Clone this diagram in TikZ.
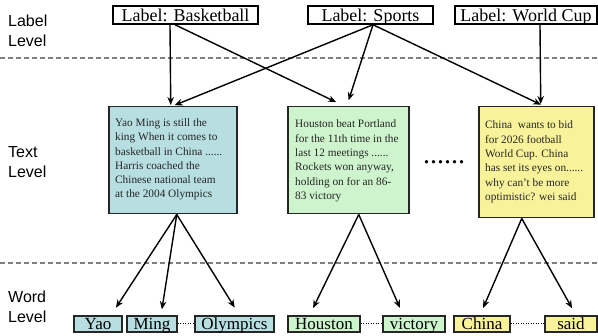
\documentclass[tikz,border=0pt]{standalone}
\usepackage{fontspec}
\setmainfont{Liberation Serif}
\newfontfamily\lvlfont{Liberation Sans}
\usetikzlibrary{arrows.meta}
\definecolor{cblue}{HTML}{B7DEE1}
\definecolor{cgreen}{HTML}{CDF4CC}
\definecolor{cyellow}{HTML}{F8F29B}
\tikzset{
  lvl/.style={font=\lvlfont\fontsize{16}{20}\selectfont, align=left, anchor=north west, inner sep=0},
  lbox/.style={draw=black, line width=1.5pt, font=\fontsize{18}{20}\selectfont, text height=15.5, text depth=2.5, inner sep=0, minimum height=18},
  tbox/.style={draw=black!85, line width=1.5pt, anchor=north west},
  ttext/.style={font=\fontsize{11.3}{14.3}\selectfont, align=left, anchor=west, inner sep=0, text=black!85},
  wbox/.style={draw=black!85, line width=1.5pt, font=\fontsize{17}{18}\selectfont, text height=13.5, text depth=2.5, inner sep=0, minimum height=16},
  arr/.style={-{Stealth[length=8pt,width=6.5pt]}, line width=1.4pt},
  sepline/.style={dash pattern=on 5pt off 3pt, draw=black!50, line width=1.1pt},
  wdots/.style={dash pattern=on 1pt off 1.5pt, line width=1pt},
}
\begin{document}
\begin{tikzpicture}[x=1pt,y=-1pt]
\useasboundingbox (0,0) rectangle (598,336);
% separators
\draw[sepline] (0,58) -- (598,58);
\draw[sepline] (0,263) -- (598,263);
% level labels
\node[lvl] (ll) at (8,14.5) {Label\\Level};
\node[lvl] (tl) at (8,146) {Text\\Level};
\node[lvl] (wl) at (8,290.5) {Word\\Level};
% label boxes
\node[lbox, minimum width=145] (lb1) at (185.5,15) {Label: Basketball};
\node[lbox, minimum width=125] (lb2) at (370.5,15) {Label: Sports};
\node[lbox, minimum width=142] (lb3) at (526,15) {Label: World Cup};
% text boxes
\node[tbox, fill=cblue, minimum width=128, minimum height=107] (t1) at (108,106) {};
\node[ttext] (t1x) at (115,159.5) {Yao Ming is still the\\king When it comes to\\basketball in China ......\\Harris coached the\\Chinese national team\\at the 2004 Olympics};
\node[tbox, fill=cgreen, minimum width=121, minimum height=107] (t2) at (287,106) {};
\node[ttext] (t2x) at (295,161) {Houston beat Portland\\for the 11th time in the\\last 12 meetings ......\\Rockets won anyway,\\holding on for an 86-\\83 victory};
\node[tbox, fill=cyellow, minimum width=115, minimum height=111] (t3) at (478,106) {};
\node[ttext] (t3x) at (485,162) {China\ \ wants to bid\\for 2026 football\\World Cup. China\\has set its eyes on......\\why can't be more\\optimistic? wei said};
\node[font=\fontsize{28}{30}\selectfont, anchor=base, inner sep=0] (dots) at (444,164) {......};
% word boxes
\node[wbox, fill=cblue, minimum width=48] (yao) at (98,324) {Yao};
\node[wbox, fill=cblue, minimum width=50] (ming) at (152,324) {Ming};
\node[wbox, fill=cblue, minimum width=79] (oly) at (234.5,324) {Olympics};
\node[wbox, fill=cgreen, minimum width=72] (hou) at (324,324) {Houston};
\node[wbox, fill=cgreen, minimum width=62] (vic) at (414,324) {victory};
\node[wbox, fill=cyellow, minimum width=56] (chi) at (482,324) {China};
\node[wbox, fill=cyellow, minimum width=52] (said) at (571,324) {said};
\draw[wdots] (ming) -- (oly);
\draw[wdots] (hou) -- (vic);
\draw[wdots] (chi) -- (said);
% label -> text arrows
\draw[arr, shorten >=1] ([xshift=-15.5]lb1.south) -- ([xshift=-2]t1.north);
\draw[arr, shorten >=9] ([xshift=-10.5]lb1.south) -- ([xshift=-4]t2.north);
\draw[arr, shorten >=2] ([xshift=2.5]lb2.south) -- (t1.north);
\draw[arr, shorten >=6] ([xshift=2.5]lb2.south) -- ([xshift=-1.5]t2.north);
\draw[arr, shorten >=3] ([xshift=2.5]lb2.south) -- ([xshift=7.5]t3.north);
\draw[arr, shorten >=2] ([xshift=14]lb3.south) -- ([xshift=4.5]t3.north);
% text -> word arrows
\draw[arr, shorten >=9] ([xshift=4]t1.south) -- ([xshift=13]yao.north);
\draw[arr, shorten >=6] ([xshift=4]t1.south) -- ([xshift=9]ming.north);
\draw[arr, shorten >=9] ([xshift=4]t1.south) -- ([xshift=5]oly.north);
\draw[arr, shorten >=8] ([xshift=10.5]t2.south) -- ([xshift=-14.4]hou.north);
\draw[arr, shorten >=8] ([xshift=10.5]t2.south) -- ([xshift=-10.8]vic.north);
\draw[arr, shorten >=8] ([xshift=-14.5]t3.south) -- ([xshift=-2]chi.north);
\draw[arr, shorten >=8] ([xshift=-14.5]t3.south) -- ([xshift=5]said.north);
\end{tikzpicture}
\end{document}
